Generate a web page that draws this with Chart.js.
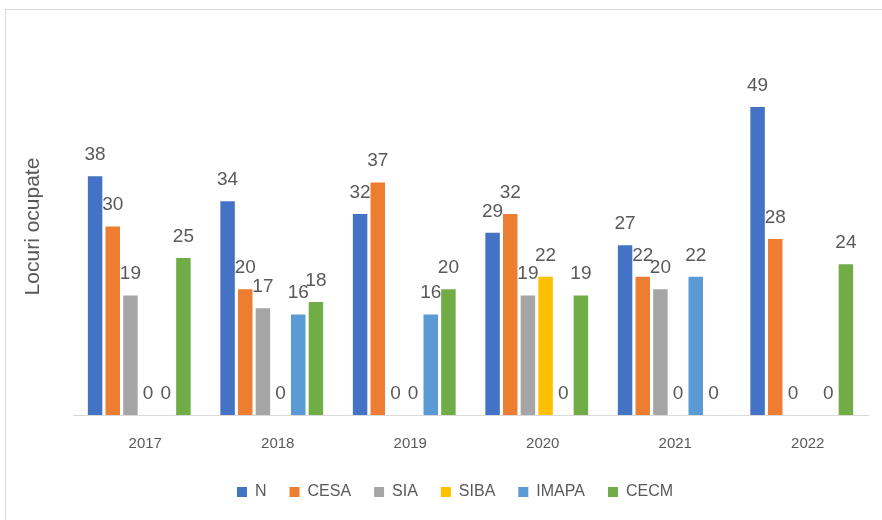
<!DOCTYPE html>
<html>
<head>
<meta charset="utf-8">
<script src="https://cdn.jsdelivr.net/npm/chart.js@4"></script>
<style>
  html, body { margin: 0; padding: 0; background: #ffffff; overflow: hidden; }
  #frame { position: absolute; left: 5px; top: 9px; width: 900px; height: 540px; border: 1px solid #d9d9d9; box-sizing: border-box; }
  #wrap { position: absolute; left: 0; top: 0; width: 882px; height: 520px; }
</style>
</head>
<body>
<div id="frame"></div>
<div id="wrap"><canvas id="c" width="882" height="520"></canvas></div>
<script>
const categories = ['2017', '2018', '2019', '2020', '2021', '2022'];
const seriesNames = ['N', 'CESA', 'SIA', 'SIBA', 'IMAPA', 'CECM'];
const valuesN     = [38, 34, 32, 29, 27, 49];
const valuesCESA  = [30, 20, 37, 32, 22, 28];
const valuesSIA   = [19, 17, 0, 19, 20, 0];
const valuesSIBA  = [0, 0, 0, 22, 0, null];
const valuesIMAPA = [0, 16, 16, 0, 22, 0];
const valuesCECM  = [25, 18, 20, 19, 0, 24];
const seriesColors = ['#4472C4', '#ED7D31', '#A5A5A5', '#FFC000', '#5B9BD5', '#70AD47'];
const yTitle = 'Locuri ocupate';

const allValues = [valuesN, valuesCESA, valuesSIA, valuesSIBA, valuesIMAPA, valuesCECM];
const FONT = '"Liberation Sans", Arial, sans-serif';

const labelPlugin = {
  id: 'barLabels',
  afterDatasetsDraw(chart) {
    const ctx = chart.ctx;
    ctx.save();
    ctx.font = '19px ' + FONT;
    ctx.fillStyle = '#595959';
    ctx.textAlign = 'center';
    ctx.textBaseline = 'bottom';
    chart.data.datasets.forEach((ds, di) => {
      const meta = chart.getDatasetMeta(di);
      meta.data.forEach((bar, i) => {
        const v = ds.data[i];
        if (v === null || v === undefined) return;
        ctx.fillText(String(v), bar.x, bar.y - 12);
      });
    });
    ctx.restore();
  }
};

new Chart(document.getElementById('c'), {
  type: 'bar',
  data: {
    labels: categories,
    datasets: seriesNames.map((name, i) => ({
      label: name,
      data: allValues[i],
      backgroundColor: seriesColors[i],
      borderWidth: 0,
      categoryPercentage: 0.8,
      barPercentage: 0.82
    }))
  },
  options: {
    responsive: false,
    animation: false,
    layout: { padding: { left: 42, right: 14, top: 38, bottom: 10 } },
    scales: {
      x: {
        grid: { display: false, drawTicks: false },
        border: { display: true, color: '#d9d9d9', width: 1 },
        ticks: { color: '#595959', font: { size: 15, family: FONT }, padding: 20, labelOffset: 6 },
        afterFit(scale) { scale.height = 46; }
      },
      y: {
        min: 0, max: 60,
        grid: { display: false, drawTicks: false },
        border: { display: false },
        ticks: { display: false },
        title: { display: true, text: yTitle, color: '#595959', font: { size: 21, family: FONT }, padding: { top: -21.6, bottom: 0 } },
        afterFit(scale) { scale.width = 31; }
      }
    },
    plugins: {
      legend: {
        position: 'bottom',
        labels: { boxWidth: 10, boxHeight: 10, padding: 23, color: '#595959', font: { size: 16, family: FONT } }
      },
      tooltip: { enabled: false }
    }
  },
  plugins: [labelPlugin]
});
</script>
</body>
</html>
